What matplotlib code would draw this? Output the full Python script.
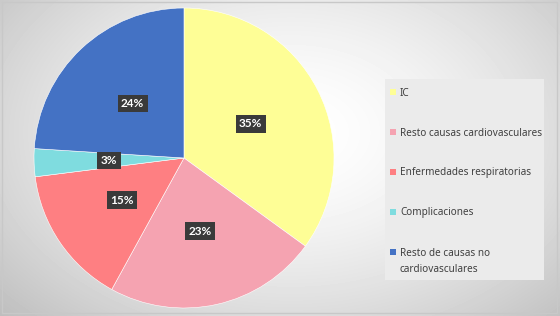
import numpy as np
import matplotlib.pyplot as plt
from matplotlib.patches import Rectangle

# Datos del gráfico
labels = ["IC", "Resto causas cardiovasculares", "Enfermedades respiratorias",
          "Complicaciones", "Resto de causas no\ncardiovasculares"]
values = [35, 23, 15, 3, 24]
colors = ["#fefe96", "#f5a3b1", "#fe7f82", "#7fdcdf", "#4472c4"]

plt.rcParams['font.family'] = ['Noto Sans', 'DejaVu Sans']

W, H = 560, 316
fig = plt.figure(figsize=(W / 100, H / 100), dpi=100)

# Fondo con degradado radial (coordenadas en píxeles, y hacia abajo)
bg = fig.add_axes([0, 0, 1, 1])
yy, xx = np.mgrid[0:1:316j, 0:1:560j]
d = np.sqrt(((xx - 0.52) / 0.75) ** 2 + ((yy - 0.42) / 0.9) ** 2)
shade = 1.0 - 0.28 * np.clip(d, 0, 1) ** 1.6
bg.imshow(shade, cmap="gray", vmin=0, vmax=1, extent=[0, W, H, 0],
          aspect="auto")
bg.add_patch(Rectangle((2, 2), W - 5, H - 5, fill=False, ec="#c8c8c8", lw=1))
bg.set_xlim(0, W)
bg.set_ylim(H, 0)
bg.axis("off")

# Tarta
ax = fig.add_axes([34 / W, 8 / H, 300 / W, 300 / H])
wedges, texts, autotexts = ax.pie(
    values, colors=colors, startangle=90, counterclock=False,
    autopct="%1.0f%%", pctdistance=0.5, radius=1,
    wedgeprops=dict(edgecolor="white", linewidth=0.4))
for t in autotexts:
    t.set_color("white")
    t.set_fontsize(8.5)
    t.set_family("Lato")
    t.set_fontweight("bold")
    t.set_bbox(dict(boxstyle="square,pad=0.28", fc="#3a3a3a", ec="none"))
ax.set_xlim(-1, 1)
ax.set_ylim(-1, 1)
ax.set_aspect("equal")

# Leyenda (caja y entradas)
bg.add_patch(Rectangle((385, 79), 159, 201, fc="#ebebeb", ec="none"))
for i, (lab, col) in enumerate(zip(labels, colors)):
    yc = 92 + 40 * i
    bg.add_patch(Rectangle((390, yc - 3), 6, 6, fc=col, ec="none"))
    bg.text(400, yc - 4.5, lab, fontsize=7.2, color="#404040",
            va="top", ha="left", linespacing=1.65)

fig.savefig("out.png", dpi=100)
